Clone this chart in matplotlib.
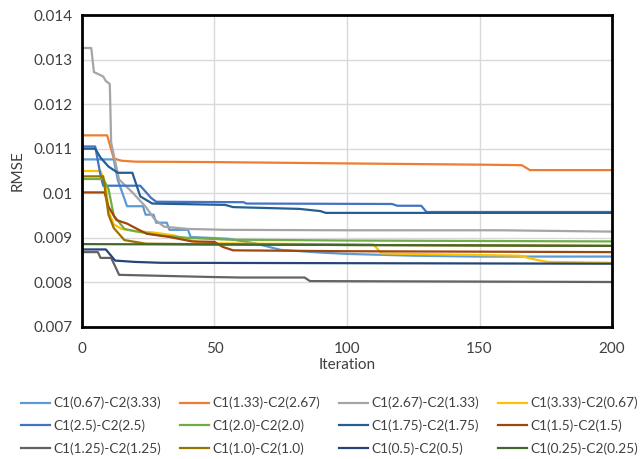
"""RMSE over iterations for the C1/C2 parameter sweep."""

import matplotlib.pyplot as plt

plt.rcParams["font.family"] = ["Lato", "DejaVu Sans"]

labels = [
    "C1(0.67)-C2(3.33)", "C1(1.33)-C2(2.67)", "C1(2.67)-C2(1.33)", "C1(3.33)-C2(0.67)",
    "C1(2.5)-C2(2.5)", "C1(2.0)-C2(2.0)", "C1(1.75)-C2(1.75)", "C1(1.5)-C2(1.5)",
    "C1(1.25)-C2(1.25)", "C1(1.0)-C2(1.0)", "C1(0.5)-C2(0.5)", "C1(0.25)-C2(0.25)",
]
colors = [
    "#5B9BD5", "#ED7D31", "#A5A5A5", "#FFC000",
    "#4472C4", "#70AD47", "#255E91", "#9E480E",
    "#636363", "#997300", "#264478", "#43682B",
]

# (iteration, rmse) breakpoints
it_067 = [0, 12, 13.5, 17, 23, 24, 27, 28, 32, 33, 40, 41, 55, 65, 75, 90, 100, 125, 150, 200]
rmse_067 = [0.01076, 0.01076, 0.0103, 0.00971, 0.00971, 0.00952, 0.00952, 0.00934, 0.00934, 0.00918,
            0.00918, 0.00902, 0.00898, 0.00888, 0.00873, 0.00867, 0.00864, 0.0086, 0.00858, 0.00858]
it_133 = [0, 9.5, 12, 15, 20, 50, 100, 154, 166, 169, 200]
rmse_133 = [0.0113, 0.0113, 0.01078, 0.01073, 0.01071, 0.0107, 0.01067, 0.01064, 0.01063, 0.01052, 0.01052]
it_267 = [0, 3.5, 4.5, 7, 8, 9, 10.5, 11, 14, 19, 24, 27.5, 31, 40, 54, 100, 158, 200]
rmse_267 = [0.01326, 0.01326, 0.01272, 0.01265, 0.01262, 0.01252, 0.01245, 0.01114, 0.01031, 0.01002,
            0.0097, 0.00941, 0.00925, 0.0092, 0.00918, 0.00917, 0.00917, 0.00914]
it_333 = [0, 7, 9, 10, 12, 15, 20, 27, 35, 45, 110, 113, 165, 172, 176, 200]
rmse_333 = [0.0105, 0.0105, 0.0102, 0.0096, 0.0093, 0.0092, 0.00915, 0.00912, 0.00905, 0.00888,
            0.00885, 0.00865, 0.0086, 0.0085, 0.00846, 0.00844]
it_25 = [0, 5, 7, 8, 22, 26, 28, 61, 62, 117, 119, 128, 130, 200]
rmse_25 = [0.01105, 0.01105, 0.0104, 0.01017, 0.01017, 0.0099, 0.00981, 0.0098, 0.00977, 0.00976,
           0.00972, 0.00972, 0.00958, 0.00958]
it_20 = [0, 8, 10, 12, 16, 20, 30, 40, 55, 100, 200]
rmse_20 = [0.01032, 0.01032, 0.0101, 0.0095, 0.0092, 0.00915, 0.00905, 0.009, 0.00896, 0.00894, 0.00892]
it_175 = [0, 5, 7, 10, 13.5, 19, 22, 26.5, 54, 57, 82, 90, 92, 200]
rmse_175 = [0.011, 0.011, 0.0108, 0.0106, 0.01046, 0.01046, 0.00993, 0.00977, 0.00974, 0.00969,
            0.00965, 0.0096, 0.00956, 0.00956]
it_15 = [0, 8.5, 10, 13, 17, 20.5, 24.5, 33, 41.5, 50, 53, 57, 100, 200]
rmse_15 = [0.01002, 0.01002, 0.0097, 0.0094, 0.00932, 0.00921, 0.00909, 0.00902, 0.00892, 0.00891,
           0.0088, 0.00872, 0.0087, 0.00868]
it_125 = [0, 6, 7, 11, 13, 14, 50, 60, 84, 86, 200]
rmse_125 = [0.00868, 0.00868, 0.00855, 0.00855, 0.0083, 0.00817, 0.00812, 0.00811, 0.00811, 0.00803, 0.00801]
it_10 = [0, 8, 10, 12, 16, 24, 40, 100, 200]
rmse_10 = [0.01038, 0.01038, 0.00952, 0.00922, 0.00895, 0.00887, 0.00886, 0.00884, 0.00882]
it_05 = [0, 9, 12.5, 20, 30, 200]
rmse_05 = [0.00874, 0.00874, 0.00849, 0.00846, 0.00844, 0.00842]
it_025 = [0, 100, 200]
rmse_025 = [0.00886, 0.00884, 0.00882]

series = [
    (it_067, rmse_067), (it_133, rmse_133), (it_267, rmse_267), (it_333, rmse_333),
    (it_25, rmse_25), (it_20, rmse_20), (it_175, rmse_175), (it_15, rmse_15),
    (it_125, rmse_125), (it_10, rmse_10), (it_05, rmse_05), (it_025, rmse_025),
]

x_ticks = [0, 50, 100, 150, 200]
y_ticks = [0.007, 0.008, 0.009, 0.01, 0.011, 0.012, 0.013, 0.014]
y_tick_labels = ["0.007", "0.008", "0.009", "0.01", "0.011", "0.012", "0.013", "0.014"]

fig = plt.figure(figsize=(6.42, 4.59), dpi=100)
ax = fig.add_axes([0.1277, 0.2876, 0.8256, 0.6797])

handles = []
for (xs, ys), label, color in zip(series, labels, colors):
    (line,) = ax.plot(xs, ys, color=color, linewidth=1.6, label=label, solid_joinstyle="round")
    handles.append(line)

ax.set_xlim(0, 200)
ax.set_ylim(0.007, 0.014)
ax.set_xticks(x_ticks)
ax.set_yticks(y_ticks)
ax.set_yticklabels(y_tick_labels)
ax.tick_params(length=0, labelsize=11, colors="#404040")
ax.tick_params(axis="x", pad=11)
ax.tick_params(axis="y", pad=7)
ax.grid(True, color="#D9D9D9", linewidth=1.0)
ax.set_axisbelow(True)
for spine in ax.spines.values():
    spine.set_color("black")
    spine.set_linewidth(2.0)

ax.set_xlabel("Iteration", fontsize=11, color="#404040", labelpad=1)
ax.set_ylabel("RMSE", fontsize=11, color="#404040", labelpad=6)

# legend reads row by row in the reference, matplotlib fills by column
order = [0, 4, 8, 1, 5, 9, 2, 6, 10, 3, 7, 11]
fig.legend(
    [handles[i] for i in order], [labels[i] for i in order],
    ncol=4, loc="upper center", bbox_to_anchor=(0.513, 0.162), frameon=False,
    fontsize=9.8, handlelength=2.15, handletextpad=0.22, columnspacing=1.4, labelspacing=0.75,
    labelcolor="#404040",
)

fig.savefig("out.png", dpi=100)
